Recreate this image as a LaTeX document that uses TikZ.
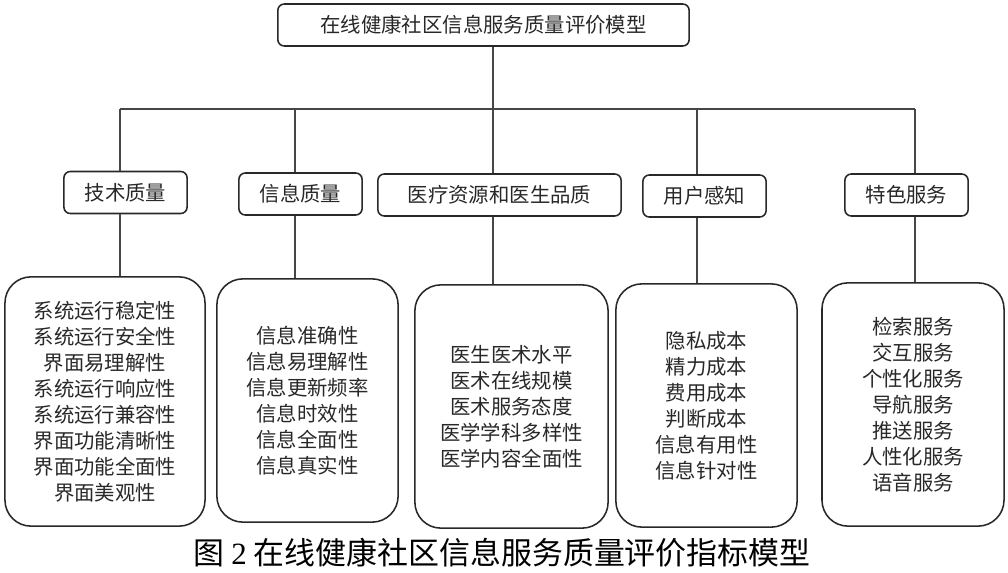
\documentclass[tikz,border=0pt]{standalone}
\usepackage{fontspec}
\newfontfamily\cjk{Noto Sans CJK SC}
\newfontfamily\capnum{Liberation Serif}
\usetikzlibrary{positioning, calc}
\definecolor{boxline}{RGB}{40,40,40}
\definecolor{linkline}{RGB}{70,70,70}
\definecolor{boxtext}{RGB}{40,40,40}
\tikzset{
  titlebox/.style={
    draw=boxline,
    rounded corners=1.6mm,
    line width=1.1pt,
    align=center,
    minimum width=10.28cm,
    minimum height=1.05cm,
    inner sep=0pt,
    font=\cjk\fontsize{14.5}{18.5}\selectfont,
    text=boxtext
  },
  catbox/.style={
    draw=boxline,
    rounded corners=1.6mm,
    line width=1.1pt,
    align=center,
    minimum width=3.08cm,
    minimum height=1.05cm,
    inner sep=0pt,
    font=\cjk\fontsize{14.5}{18.5}\selectfont,
    text=boxtext
  },
  itembox/.style={
    draw=boxline,
    rounded corners=6.5mm,
    line width=1.1pt,
    align=center,
    minimum width=4.53cm,
    minimum height=6.08cm,
    inner sep=0pt,
    font=\cjk\fontsize{14.5}{18.5}\selectfont,
    text=boxtext
  },
  link/.style={draw=linkline, line width=0.9pt}
}

\begin{document}
\begin{tikzpicture}[x=0.025cm, y=-0.025cm]
  \useasboundingbox (0,0) rectangle (1008,573);

  \node[titlebox] (model) at (483.5,25) {在线健康社区信息服务质量评价模型};

  % first level
  \node[catbox] (tech) at (125.5,192.5) {技术质量};
  \node[catbox] (info) at (300.5,194) {信息质量};
  \node[catbox, minimum width=6.08cm] (doctor) at (499.5,195) {医疗资源和医生品质};
  \node[catbox] (user) at (704.5,196) {用户感知};
  \node[catbox] (feature) at (906.5,195) {特色服务};

  % indicators
  \node[itembox, minimum width=5.0cm, minimum height=6.23cm] (techitems) at (105,401.5)
    {系统运行稳定性\\系统运行安全性\\界面易理解性\\系统运行响应性\\系统运行兼容性\\界面功能清晰性\\界面功能全面性\\界面美观性};
  \node[itembox] (infoitems) at (307.5,400.5)
    {信息准确性\\信息易理解性\\信息更新频率\\信息时效性\\信息全面性\\信息真实性};
  \node[itembox, minimum width=4.83cm] (doctoritems) at (511.5,406.5)
    {医生医术水平\\医术在线规模\\医术服务态度\\医学学科多样性\\医学内容全面性};
  \node[itembox] (useritems) at (706.5,405.5)
    {隐私成本\\精力成本\\费用成本\\判断成本\\信息有用性\\信息针对性};
  \node[itembox, minimum width=4.55cm] (featureitems) at (913,404.5)
    {检索服务\\交互服务\\个性化服务\\导航服务\\推送服务\\人性化服务\\语音服务};

  % tree lines
  \coordinate (bus1) at (120,109);
  \coordinate (bus2) at (295,109);
  \coordinate (bus3) at (493,109);
  \coordinate (bus4) at (697,109);
  \coordinate (bus5) at (915,109);
  \draw[link] (bus3 |- model.south) -- (bus3);
  \draw[link] (bus1) -- (bus5);
  \draw[link] (bus1) -- (bus1 |- tech.north);
  \draw[link] (bus2) -- (bus2 |- info.north);
  \draw[link] (bus3) -- (bus3 |- doctor.north);
  \draw[link] (bus4) -- (bus4 |- user.north);
  \draw[link] (bus5) -- (bus5 |- feature.north);

  \draw[link] (bus1 |- tech.south) -- (bus1 |- techitems.north);
  \draw[link] (bus2 |- info.south) -- (bus2 |- infoitems.north);
  \draw[link] (bus3 |- doctor.south) -- (bus3 |- doctoritems.north);
  \draw[link] (bus4 |- user.south) -- (bus4 |- useritems.north);
  \draw[link] (bus5 |- feature.south) -- (bus5 |- featureitems.north);

  \node[font=\cjk\fontsize{22}{26}\selectfont, inner sep=0pt] (caption) at (502,553)
    {图 {\capnum 2} 在线健康社区信息服务质量评价指标模型};
\end{tikzpicture}
\end{document}
